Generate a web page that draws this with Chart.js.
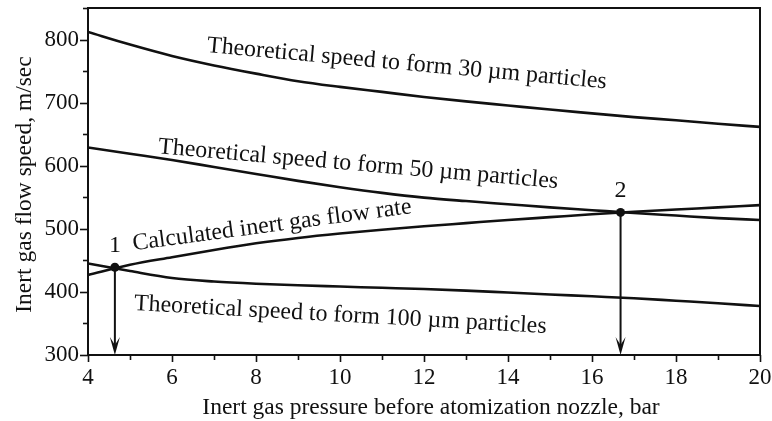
<!DOCTYPE html>
<html><head><meta charset="utf-8">
<script src="https://cdn.jsdelivr.net/npm/chart.js@4"></script>
<style>html,body{margin:0;padding:0;background:#fff;}</style>
</head><body>
<canvas id="c" width="772" height="421"></canvas>
<script>
// ---- data ----
const pressure = [4, 5, 6, 7, 8, 9, 10, 11, 12, 13, 14, 15, 16, 17, 18, 19, 20];
const speed30 = [812, 792, 774, 759, 746, 734, 725, 717, 709, 702, 695.5, 689, 683, 677, 672, 666.5, 661.5];
const speed50 = [629, 619, 609, 598, 587, 576, 566, 557, 549.5, 544, 539, 534, 529.5, 525, 521, 517, 514];
const calcFlow = [427, 443, 455, 466.5, 477, 485.5, 492.5, 498.5, 504, 509, 514, 518.5, 523, 527, 530.5, 534, 537.5];
const speed100 = [445, 433, 422, 416.5, 413, 410.5, 408.5, 406.5, 404.5, 402, 399, 396, 393, 390, 386, 382, 377.6];
const markX = [4.64, 16.68];
const markY = [439, 526];
const markLabels = ['1', '2'];
const xTickValues = [4, 6, 8, 10, 12, 14, 16, 18, 20];
const yTickValues = [300, 400, 500, 600, 700, 800];
const xTitle = 'Inert gas pressure before atomization nozzle, bar';
const yTitle = 'Inert gas flow speed, m/sec';
const curveLabels = [
  'Theoretical speed to form 30 \u00B5m particles',
  'Theoretical speed to form 50 \u00B5m particles',
  'Calculated inert gas flow rate',
  'Theoretical speed to form 100 \u00B5m particles'
];

// ---- annotation placement (data coordinates + angle) ----
const labelAnchors = [
  {x: 11.58, y: 751.4, a: 5.2},
  {x: 10.42, y: 592.2, a: 5.0},
  {x: 8.4, y: 495.6, a: -7.6},
  {x: 10.0, y: 353, a: 3.2}
];
const markLabelOffsetY = -15;

const FONT = "'Liberation Serif', 'Times New Roman', Times, serif";
const INK = '#111';
Chart.defaults.font.family = FONT;
Chart.defaults.color = INK;

const pts = arr => pressure.map((p, i) => ({x: p, y: arr[i]}));
const lineStyle = {borderColor: INK, borderWidth: 2.6, pointRadius: 0, fill: false, cubicInterpolationMode: 'monotone'};

const overlay = {
  id: 'overlay',
  afterDatasetsDraw(chart) {
    const {ctx, chartArea: a, scales: {x, y}} = chart;
    ctx.save();
    ctx.strokeStyle = INK; ctx.fillStyle = INK;
    // frame
    ctx.lineWidth = 2;
    ctx.strokeRect(a.left, a.top, a.right - a.left, a.bottom - a.top);
    // y ticks (major every 100, minor every 50), outward
    ctx.lineWidth = 1.6;
    for (let v = y.min; v <= y.max; v += 50) {
      const py = Math.round(y.getPixelForValue(v)) + 0.5;
      const len = (v % 100 === 0) ? 8 : 5;
      ctx.beginPath(); ctx.moveTo(a.left - len, py); ctx.lineTo(a.left, py); ctx.stroke();
    }
    // x ticks (major every 2, minor every 1), outward
    for (let v = x.min; v <= x.max; v += 1) {
      const px = Math.round(x.getPixelForValue(v)) + 0.5;
      const len = (v % 2 === 0) ? 7 : 5;
      ctx.beginPath(); ctx.moveTo(px, a.bottom); ctx.lineTo(px, a.bottom + len); ctx.stroke();
    }
    // arrows from intersection points to x axis
    ctx.lineWidth = 2;
    markX.forEach((mx, i) => {
      const px = x.getPixelForValue(mx);
      const py = y.getPixelForValue(markY[i]);
      const tip = a.bottom;
      ctx.beginPath(); ctx.moveTo(px, py); ctx.lineTo(px, tip - 8); ctx.stroke();
      ctx.beginPath();
      ctx.moveTo(px, tip);
      ctx.lineTo(px - 5, tip - 18);
      ctx.lineTo(px, tip - 10);
      ctx.lineTo(px + 5, tip - 18);
      ctx.closePath(); ctx.fill();
    });
    // curve labels
    ctx.font = '23.9px ' + FONT;
    ctx.textAlign = 'center'; ctx.textBaseline = 'alphabetic';
    curveLabels.forEach((t, i) => {
      const an = labelAnchors[i];
      ctx.save();
      ctx.translate(x.getPixelForValue(an.x), y.getPixelForValue(an.y));
      ctx.rotate(an.a * Math.PI / 180);
      ctx.fillText(t, 0, 0);
      ctx.restore();
    });
    // point numbers
    ctx.font = '24px ' + FONT;
    markLabels.forEach((t, i) => {
      ctx.fillText(t, x.getPixelForValue(markX[i]), y.getPixelForValue(markY[i]) + markLabelOffsetY);
    });
    // axis titles
    ctx.font = '23.5px ' + FONT;
    ctx.fillText(xTitle, (a.left + a.right) / 2 + 7, 414);
    ctx.save();
    ctx.translate(31, (a.top + a.bottom) / 2 + 3);
    ctx.rotate(-Math.PI / 2);
    ctx.fillText(yTitle, 0, 0);
    ctx.restore();
    ctx.restore();
  }
};

new Chart(document.getElementById('c'), {
  type: 'line',
  data: {
    datasets: [
      {label: curveLabels[0], data: pts(speed30), ...lineStyle},
      {label: curveLabels[1], data: pts(speed50), ...lineStyle},
      {label: curveLabels[2], data: pts(calcFlow), ...lineStyle},
      {label: curveLabels[3], data: pts(speed100), ...lineStyle},
      {type: 'scatter', label: 'points', data: markX.map((v, i) => ({x: v, y: markY[i]})),
       pointRadius: 4.5, backgroundColor: INK, borderColor: INK, borderWidth: 0}
    ]
  },
  options: {
    responsive: false,
    animation: false,
    devicePixelRatio: 1,
    layout: {padding: {top: 8, right: 12, left: 0, bottom: 0}},
    plugins: {legend: {display: false}, tooltip: {enabled: false}},
    scales: {
      x: {
        type: 'linear', min: 4, max: 20,
        afterBuildTicks: s => { s.ticks = xTickValues.map(v => ({value: v})); },
        ticks: {font: {family: FONT, size: 23}, color: INK, padding: 9, autoSkip: false, maxRotation: 0},
        grid: {display: false, drawTicks: false},
        border: {display: false},
        afterFit: s => { s.height = 66; s.paddingLeft = 0; s.paddingRight = 0; }
      },
      y: {
        type: 'linear', min: 300, max: 850,
        afterBuildTicks: s => { s.ticks = yTickValues.map(v => ({value: v})); },
        ticks: {font: {family: FONT, size: 23}, color: INK, padding: 9, autoSkip: false},
        grid: {display: false, drawTicks: false},
        border: {display: false},
        afterFit: s => { s.width = 88; s.paddingTop = 0; s.paddingBottom = 0; }
      }
    }
  },
  plugins: [overlay]
});
</script>
</body></html>
